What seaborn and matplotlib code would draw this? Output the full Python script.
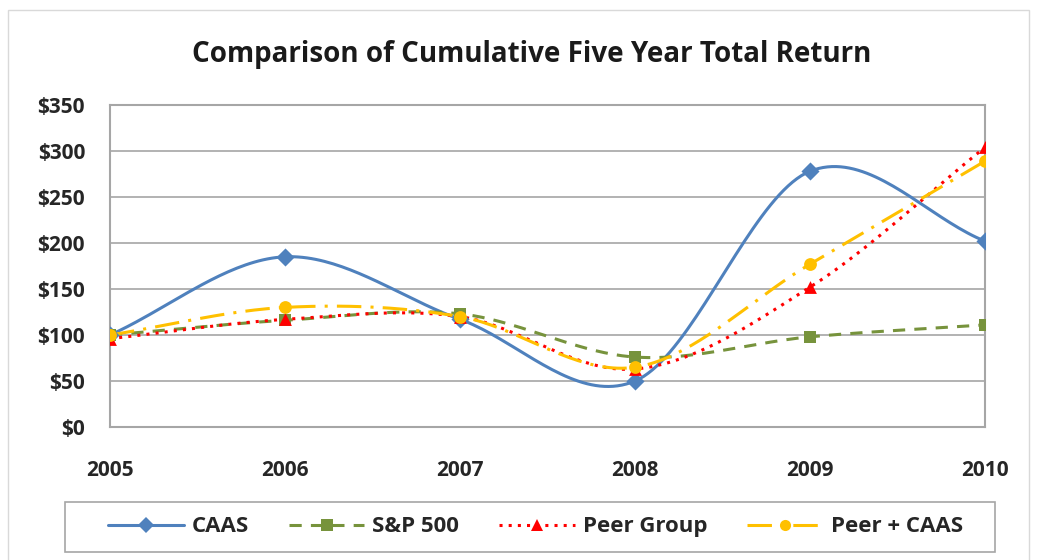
import numpy as np
import pandas as pd
import seaborn as sns
import matplotlib.pyplot as plt
from matplotlib.patches import Rectangle

years = [2005, 2006, 2007, 2008, 2009, 2010]
caas = [100, 185, 117, 50, 278, 202]
sp500 = [100, 116, 123, 76, 98, 111]
peer = [96, 117, 120, 63, 152, 304]
peer_caas = [100, 130, 120, 65, 177, 289]

series = ['CAAS', 'S&P 500', 'Peer Group', 'Peer + CAAS']
values = [caas, sp500, peer, peer_caas]
colors = ['#4F81BD', '#77933C', '#FF0000', '#FFC000']
markers = ['D', 's', '^', 'o']
styles = ['-', (0, (4, 3)), (0, (1, 2)), (0, (8, 3, 1, 3))]

sns.set_style('white')
plt.rcParams['font.family'] = ['Open Sans', 'DejaVu Sans']

fig = plt.figure(figsize=(10.42, 5.6), dpi=100)
ax = fig.add_axes([0.1056, 0.2375, 0.8397, 0.575])


def smooth_line(xs, ys, n=40):
    # Excel-style smoothed line through the points
    xs = np.asarray(xs, float)
    ys = np.asarray(ys, float)
    px = np.concatenate([[2 * xs[0] - xs[1]], xs, [2 * xs[-1] - xs[-2]]])
    py = np.concatenate([[2 * ys[0] - ys[1]], ys, [2 * ys[-1] - ys[-2]]])
    ox, oy = [], []
    for i in range(1, len(px) - 2):
        t = np.linspace(0, 1, n, endpoint=False)
        for p, out in ((px, ox), (py, oy)):
            p0, p1, p2, p3 = p[i - 1], p[i], p[i + 1], p[i + 2]
            out.extend(0.5 * ((2 * p1) + (-p0 + p2) * t
                              + (2 * p0 - 5 * p1 + 4 * p2 - p3) * t ** 2
                              + (-p0 + 3 * p1 - 3 * p2 + p3) * t ** 3))
    ox.append(xs[-1])
    oy.append(ys[-1])
    return ox, oy


handles = []
for name, vals, c, m, ls in zip(series, values, colors, markers, styles):
    df = pd.DataFrame({'year': years, 'value': vals})
    cx, cy = smooth_line(years, vals)
    sns.lineplot(x=cx, y=cy, ax=ax, color=c, linestyle=ls, linewidth=2.2,
                 sort=False, estimator=None)
    sns.scatterplot(data=df, x='year', y='value', ax=ax, color=c, marker=m,
                    s=85, edgecolor=c, linewidth=0, zorder=5)
    handles.append(plt.Line2D([], [], color=c, linestyle=ls, linewidth=2.2,
                              marker=m, markersize=8, markeredgewidth=0))

ax.set_xlim(2005, 2010)
ax.set_ylim(0, 350)
ax.set_xticks(years)
ax.set_yticks(range(0, 351, 50))
ax.set_yticklabels([f'${v}' for v in range(0, 351, 50)])
ax.set_xlabel('')
ax.set_ylabel('')
ax.yaxis.grid(True, color='#A6A6A6', linewidth=1.2)
ax.set_axisbelow(True)
for s in ax.spines.values():
    s.set_color('#A6A6A6')
    s.set_linewidth(1.5)
ax.tick_params(axis='x', length=5, color='#A6A6A6', width=1.5, pad=19, labelsize=15)
ax.tick_params(axis='y', length=6, color='#A6A6A6', width=1.2, pad=12, labelsize=15)
for lab in ax.get_xticklabels() + ax.get_yticklabels():
    lab.set_fontweight('bold')
    lab.set_color('#262626')

fig.text(0.51, 0.902, 'Comparison of Cumulative Five Year Total Return',
         ha='center', va='center', fontsize=20, fontweight='bold', color='#1a1a1a')

# legend box drawn separately so its size matches the original
fig.patches.append(Rectangle((0.0624, 0.0143), 0.8925, 0.0893, transform=fig.transFigure,
                             fill=False, edgecolor='#A6A6A6', linewidth=1.2))
leg = fig.legend(handles, series, loc='center', bbox_to_anchor=(0.514, 0.059),
                 ncol=4, frameon=False, fontsize=16, handlelength=3.4,
                 handletextpad=0.36, columnspacing=1.8, borderpad=0)
for t in leg.get_texts():
    t.set_fontweight('bold')
    t.set_color('#262626')

fig.patches.append(Rectangle((0.008, -0.01), 0.98, 0.992, transform=fig.transFigure,
                             fill=False, edgecolor='#D9D9D9', linewidth=1))

fig.savefig('out.png', dpi=100)
